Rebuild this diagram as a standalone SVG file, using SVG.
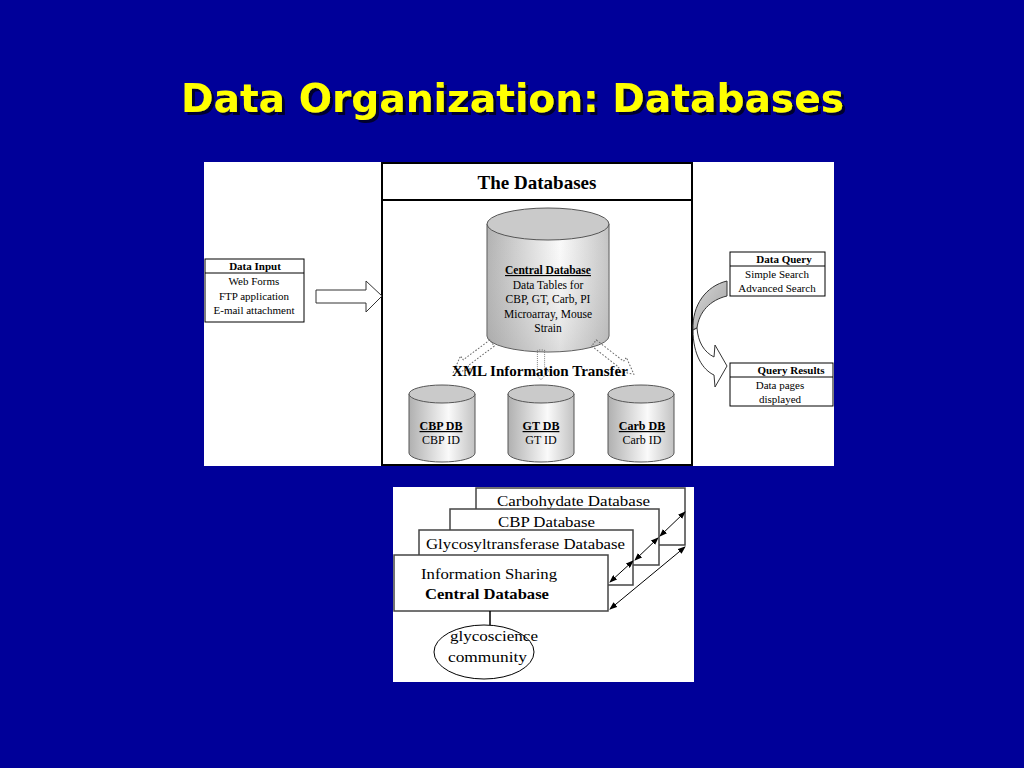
<svg xmlns="http://www.w3.org/2000/svg" width="1024" height="768" viewBox="0 0 1024 768">
<defs>
<style>
.s{font-family:"Liberation Serif","Times New Roman",serif;fill:#000}
.b{font-weight:bold}
.u{text-decoration:underline}
.box{fill:#fff;stroke:#000;stroke-width:1}
.sbox{fill:#fff;stroke:#444;stroke-width:1.5}
.dot{fill:none;stroke:#666;stroke-width:1;stroke-dasharray:1.5 1.5}
.con{stroke:#000;stroke-width:1;fill:none}
</style>
<filter id="sh" x="-5%" y="-20%" width="110%" height="140%">
<feDropShadow dx="3" dy="3" stdDeviation="0.6" flood-color="#000022" flood-opacity="0.9"/>
</filter>
<linearGradient id="cyl" x1="0" y1="0" x2="1" y2="0">
<stop offset="0" stop-color="#b0b0b0"/>
<stop offset="0.6" stop-color="#fafafa"/>
<stop offset="1" stop-color="#c2c2c2"/>
</linearGradient>
<linearGradient id="cylv" x1="0" y1="0" x2="0" y2="1">
<stop offset="0" stop-color="#fff" stop-opacity="0"/>
<stop offset="1" stop-color="#999" stop-opacity="0.3"/>
</linearGradient>
<linearGradient id="curv" x1="0" y1="0" x2="1" y2="1">
<stop offset="0" stop-color="#d8d8d8"/>
<stop offset="1" stop-color="#a0a0a0"/>
</linearGradient>
<marker id="ah" markerWidth="8" markerHeight="6" refX="7" refY="3" orient="auto-start-reverse" markerUnits="userSpaceOnUse">
<path d="M0,0 L8,3 L0,6 Z" fill="#000"/>
</marker>
<path id="bar" d="M0,-4 L30,-4 L30,-9 L44,0 L30,9 L30,4 L0,4 Z"/>
</defs>
<rect x="0" y="0" width="1024" height="768" fill="#000099"/>
<g id="title">
<text x="181" y="112" font-family="'DejaVu Sans',Verdana,sans-serif" font-weight="bold" font-size="39" fill="#ffff00" textLength="663" lengthAdjust="spacingAndGlyphs" filter="url(#sh)">Data Organization: Databases</text>
</g>
<rect x="204" y="162" width="630" height="304" fill="#fff"/>
<g id="databases-frame">
<rect x="382" y="163" width="310" height="302" fill="#fff" stroke="#000" stroke-width="2"/>
<line x1="382" y1="200" x2="692" y2="200" stroke="#000" stroke-width="2"/>
<text class="s b" x="537" y="189" font-size="19" text-anchor="middle">The Databases</text>
</g>
<g id="central-db">
<path d="M487,224 L487,336 A61,16 0 0 0 609,336 L609,224 Z" fill="url(#cyl)" stroke="#555" stroke-width="1"/>
<path d="M487,224 L487,336 A61,16 0 0 0 609,336 L609,224 Z" fill="url(#cylv)"/>
<ellipse cx="548" cy="224" rx="61" ry="16" fill="#cacaca" stroke="#555" stroke-width="1"/>
<text class="s b u" x="548" y="274" font-size="11.5" text-anchor="middle">Central Database</text>
<text class="s" x="548" y="289" font-size="11.5" text-anchor="middle">Data Tables for</text>
<text class="s" x="548" y="303" font-size="11.5" text-anchor="middle">CBP, GT, Carb, PI</text>
<text class="s" x="548" y="318" font-size="11.5" text-anchor="middle">Microarray, Mouse</text>
<text class="s" x="548" y="332" font-size="11.5" text-anchor="middle">Strain</text>
</g>
<g id="cbp-db">
<path d="M409,394 L409,453 A33,9 0 0 0 475,453 L475,394 Z" fill="url(#cyl)" stroke="#555" stroke-width="1"/>
<ellipse cx="442" cy="394" rx="33" ry="9" fill="#cacaca" stroke="#555" stroke-width="1"/>
<text class="s b u" x="441" y="430" font-size="12" text-anchor="middle">CBP DB</text>
<text class="s" x="441" y="444" font-size="12" text-anchor="middle">CBP ID</text>
</g>
<g id="gt-db">
<path d="M508,394 L508,453 A33,9 0 0 0 574,453 L574,394 Z" fill="url(#cyl)" stroke="#555" stroke-width="1"/>
<ellipse cx="541" cy="394" rx="33" ry="9" fill="#cacaca" stroke="#555" stroke-width="1"/>
<text class="s b u" x="541" y="430" font-size="12" text-anchor="middle">GT DB</text>
<text class="s" x="541" y="444" font-size="12" text-anchor="middle">GT ID</text>
</g>
<g id="carb-db">
<path d="M608,394 L608,453 A33,9 0 0 0 674,453 L674,394 Z" fill="url(#cyl)" stroke="#555" stroke-width="1"/>
<ellipse cx="641" cy="394" rx="33" ry="9" fill="#cacaca" stroke="#555" stroke-width="1"/>
<text class="s b u" x="642" y="430" font-size="12" text-anchor="middle">Carb DB</text>
<text class="s" x="642" y="444" font-size="12" text-anchor="middle">Carb ID</text>
</g>
<g id="data-input">
<rect class="box" x="205" y="259" width="99" height="63"/>
<line x1="205" y1="273" x2="304" y2="273" stroke="#000"/>
<text class="s b" x="255" y="270" font-size="11" text-anchor="middle">Data Input</text>
<text class="s" x="254" y="285" font-size="11" text-anchor="middle">Web Forms</text>
<text class="s" x="254" y="300" font-size="11" text-anchor="middle">FTP application</text>
<text class="s" x="254" y="314" font-size="11" text-anchor="middle">E-mail attachment</text>
</g>
<g id="data-query">
<rect class="box" x="730" y="252" width="95" height="44"/>
<line x1="730" y1="266" x2="825" y2="266" stroke="#000"/>
<text class="s b" x="784" y="263" font-size="11" text-anchor="middle">Data Query</text>
<text class="s" x="777" y="278" font-size="11" text-anchor="middle">Simple Search</text>
<text class="s" x="777" y="292" font-size="11" text-anchor="middle">Advanced Search</text>
</g>
<g id="query-results">
<rect class="box" x="730" y="363" width="103" height="43"/>
<line x1="730" y1="377" x2="833" y2="377" stroke="#000"/>
<text class="s b" x="791" y="374" font-size="11" text-anchor="middle">Query Results</text>
<text class="s" x="780" y="389" font-size="11" text-anchor="middle">Data pages</text>
<text class="s" x="780" y="403" font-size="11" text-anchor="middle">displayed</text>
</g>
<g id="xml-transfer">
<use href="#bar" class="dot" transform="translate(492,343) rotate(143) scale(1.1,0.95)"/>
<use href="#bar" class="dot" transform="translate(541,350) rotate(90) scale(0.68,0.9)"/>
<use href="#bar" class="dot" transform="translate(594,343) rotate(38) scale(1.15,0.95)"/>
<text class="s b" x="540" y="376" font-size="14" text-anchor="middle" textLength="176" lengthAdjust="spacingAndGlyphs">XML Information Transfer</text>
</g>
<g id="connectors">
<path d="M316,290 L366,290 L366,281 L382,296 L366,312 L366,303 L316,303 Z" fill="#fff" stroke="#333" stroke-width="1"/>
<path d="M727,281 C706,286 692,305 693,330 L697,328 C699,312 710,300 727,296 Z" fill="url(#curv)" stroke="#333" stroke-width="1"/>
<path d="M693,330 C693,355 703,370 714,375 L715,387 L727,366 L715,345 L714,357 C704,352 698,342 697,328 Z" fill="#fff" stroke="#333" stroke-width="1"/>
</g>
<rect x="393" y="487" width="301" height="195" fill="#fff"/>
<g id="carb-database">
<rect class="sbox" x="476" y="488" width="209" height="57"/>
<text class="s" x="497" y="506" font-size="15" textLength="153" lengthAdjust="spacingAndGlyphs">Carbohydate Database</text>
</g>
<g id="cbp-database">
<rect class="sbox" x="450" y="509" width="209" height="56"/>
<text class="s" x="498" y="527" font-size="15" textLength="97" lengthAdjust="spacingAndGlyphs">CBP Database</text>
</g>
<g id="gt-database">
<rect class="sbox" x="419" y="530" width="214" height="55"/>
<text class="s" x="426" y="549" font-size="15" textLength="199" lengthAdjust="spacingAndGlyphs">Glycosyltransferase Database</text>
</g>
<g id="central-database">
<rect class="sbox" x="394" y="555" width="214" height="56"/>
<text class="s" x="421" y="579" font-size="15" textLength="136" lengthAdjust="spacingAndGlyphs">Information Sharing</text>
<text class="s b" x="425" y="599" font-size="15" textLength="124" lengthAdjust="spacingAndGlyphs">Central Database</text>
</g>
<g id="community">
<ellipse cx="484" cy="652" rx="50" ry="27" fill="#fff" stroke="#000" stroke-width="1"/>
<text class="s" x="450" y="641" font-size="15" textLength="88" lengthAdjust="spacingAndGlyphs">glycoscience</text>
<text class="s" x="448" y="662" font-size="15" textLength="79" lengthAdjust="spacingAndGlyphs">community</text>
</g>
<g id="sharing-connectors">
<line x1="490" y1="611" x2="490" y2="625" stroke="#000" stroke-width="1.5"/>
<line class="con" x1="610" y1="582" x2="633" y2="561" marker-start="url(#ah)" marker-end="url(#ah)"/>
<line class="con" x1="635" y1="560" x2="658" y2="538" marker-start="url(#ah)" marker-end="url(#ah)"/>
<line class="con" x1="660" y1="536" x2="685" y2="512" marker-start="url(#ah)" marker-end="url(#ah)"/>
<line class="con" x1="610" y1="609" x2="685" y2="547" marker-start="url(#ah)" marker-end="url(#ah)"/>
</g>
</svg>
